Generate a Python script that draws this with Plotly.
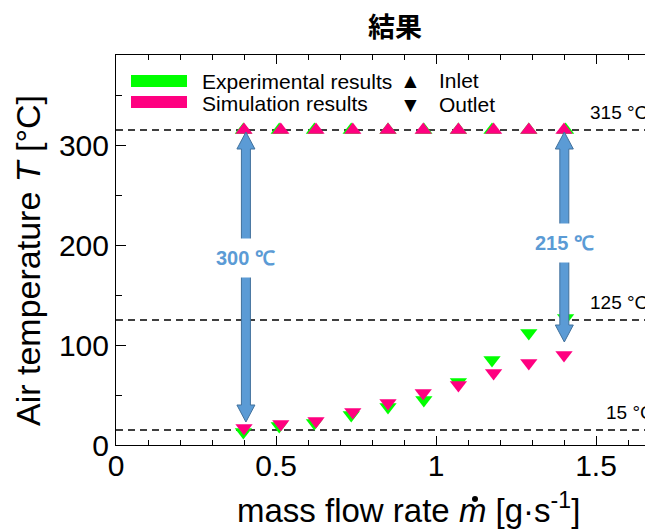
import plotly.graph_objects as go

# ---------------- data ----------------
sim_x = [0.40, 0.515, 0.625, 0.74, 0.85, 0.96, 1.07, 1.18, 1.29, 1.40]
exp_x = [0.398, 0.51, 0.62, 0.735, 0.85, 0.962, 1.07, 1.175, 1.29, 1.405]
exp_inlet = [315, 315, 315, 315, 315, 315, 315, 315, 315, 315]
sim_inlet = [315, 315, 315, 315, 315, 315, 315, 315, 315, 315]
exp_outlet = [13, 19, 22, 30, 38, 45, 63, 85, 112, 127]
sim_outlet = [17, 21, 24, 33, 42, 52, 60, 72, 82, 90]

ref_levels = [315, 125, 15]
ref_labels = ["315 °C", "125 °C", "15 °C"]

arrow_x = [0.406, 1.401]
arrow_top = [313, 313]
arrow_bottom = [23, 103]
arrow_labels = ["300 ℃", "215 ℃"]
arrow_label_y = [187, 202]

x_ticks = [0, 0.5, 1, 1.5]
x_tick_text = ["0", "0.5", "1", "1.5"]
y_ticks = [0, 100, 200, 300]
y_tick_text = ["0", "100", "200", "300"]

# ---------------- layout geometry ----------------
W, H = 653, 530
OFF = 8  # page body margin: screen px = figure px + 8
L, R, T, B = 108, 0, 47, 93
PW, PH = W - L - R, H - T - B
XPX = 320.0  # px per unit x
X_MAX = PW / XPX
Y_MAX = PH * 1.0


def px(xs):
    return (xs - OFF - L) / PW


def py(ys):
    return (H - B - (ys - OFF)) / PH


GREEN = "#00FF00"
PINK = "#FF0080"
BLUE = "#5B9BD5"
BLUE_EDGE = "#41719C"
FONT = "Liberation Sans, Arial, sans-serif"

fig = go.Figure()
fig.add_trace(go.Scatter(x=exp_x, y=exp_inlet, mode="markers",
                         marker=dict(symbol="triangle-up", size=15, color=GREEN, line_width=0),
                         showlegend=False))
fig.add_trace(go.Scatter(x=exp_x, y=exp_outlet, mode="markers",
                         marker=dict(symbol="triangle-down", size=15, color=GREEN, line_width=0),
                         showlegend=False))
fig.add_trace(go.Scatter(x=sim_x, y=sim_inlet, mode="markers",
                         marker=dict(symbol="triangle-up", size=15, color=PINK, line_width=0),
                         showlegend=False))
fig.add_trace(go.Scatter(x=sim_x, y=sim_outlet, mode="markers",
                         marker=dict(symbol="triangle-down", size=15, color=PINK, line_width=0),
                         showlegend=False))

shapes = []
annotations = []

# reference dashed lines + labels
for lv, lab in zip(ref_levels, ref_labels):
    shapes.append(dict(type="line", xref="paper", yref="y", x0=0, x1=1, y0=lv, y1=lv,
                       line=dict(color="black", width=1.6, dash="7px,5px"), layer="below"))
    annotations.append(dict(xref="paper", yref="y", x=px(588 if lv != 15 else 604), y=lv,
                            text=lab, showarrow=False, xanchor="left", yanchor="bottom",
                            yshift=5, font=dict(family=FONT, size=19, color="black")))

# block double arrows
head_len = 17.0
head_hw = 9.0 / XPX
shaft_hw = 4.5 / XPX
for ax, yt, yb, lab, ly in zip(arrow_x, arrow_top, arrow_bottom, arrow_labels, arrow_label_y):
    path = (f"M {ax},{yt} L {ax + head_hw},{yt - head_len} L {ax + shaft_hw},{yt - head_len} "
            f"L {ax + shaft_hw},{yb + head_len} L {ax + head_hw},{yb + head_len} L {ax},{yb} "
            f"L {ax - head_hw},{yb + head_len} L {ax - shaft_hw},{yb + head_len} "
            f"L {ax - shaft_hw},{yt - head_len} L {ax - head_hw},{yt - head_len} Z")
    shapes.append(dict(type="path", xref="x", yref="y", path=path, fillcolor=BLUE,
                       line=dict(color=BLUE_EDGE, width=1)))
    annotations.append(dict(xref="x", yref="y", x=ax, y=ly, text=f"<b>{lab}</b>", showarrow=False,
                            bgcolor="white", borderpad=8,
                            font=dict(family=FONT, size=20, color=BLUE)))

# custom legend
shapes.append(dict(type="rect", xref="paper", yref="paper", x0=px(131), x1=px(187),
                   y0=py(87), y1=py(75), fillcolor=GREEN, line_width=0))
shapes.append(dict(type="rect", xref="paper", yref="paper", x0=px(131), x1=px(187),
                   y0=py(108), y1=py(96), fillcolor=PINK, line_width=0))
for txt, xx, yy, anc, sz in [("Experimental results", 200, 81, "left", 21),
                             ("Simulation results", 200, 103, "left", 21),
                             ("▲", 410, 80, "center", 21),
                             ("▼", 410, 104, "center", 21),
                             ("Inlet", 437, 80, "left", 21),
                             ("Outlet", 437, 104, "left", 21)]:
    annotations.append(dict(xref="paper", yref="paper", x=px(xx), y=py(yy), text=txt,
                            showarrow=False, xanchor=anc, yanchor="middle",
                            font=dict(family=FONT, size=sz, color="black")))

# axis titles
annotations.append(dict(xref="paper", yref="paper", x=px(28), y=py(261),
                        text="Air temperature <i>T</i> [°C]", textangle=-90, showarrow=False,
                        xanchor="center", yanchor="middle",
                        font=dict(family=FONT, size=34, color="black")))
annotations.append(dict(xref="paper", yref="paper", x=px(408), y=py(508),
                        text="mass flow rate <i>m</i> [g·s<sup>-1</sup>]", showarrow=False,
                        xanchor="center", yanchor="middle",
                        font=dict(family=FONT, size=33, color="black")))
shapes.append(dict(type="circle", xref="paper", yref="paper", x0=px(472), x1=px(478),
                   y0=py(502), y1=py(496), fillcolor="black", line_width=0))

# title
annotations.append(dict(xref="paper", yref="paper", x=px(395), y=py(25), text="<b>結果</b>",
                        showarrow=False, xanchor="center", yanchor="middle",
                        font=dict(family="Noto Sans CJK JP", size=27, color="black")))

fig.update_layout(
    width=W, height=H,
    margin=dict(l=L, r=R, t=T, b=B),
    plot_bgcolor="white", paper_bgcolor="white",
    shapes=shapes, annotations=annotations,
    showlegend=False,
    xaxis=dict(range=[0, X_MAX], tickvals=x_ticks, ticktext=x_tick_text,
               ticks="inside", ticklen=9, tickwidth=1, tickcolor="black",
               ticklabelstandoff=-6,
               minor=dict(dtick=0.1, ticks="inside", ticklen=5, tickcolor="black", tick0=0),
               showline=True, linecolor="black", linewidth=1, mirror="allticks",
               showgrid=False, zeroline=False,
               tickfont=dict(family=FONT, size=30, color="black")),
    yaxis=dict(range=[0, Y_MAX], tickvals=y_ticks, ticktext=y_tick_text,
               ticks="inside", ticklen=10, tickwidth=1, tickcolor="black",
               minor=dict(dtick=50, ticks="inside", ticklen=6, tickcolor="black", tick0=0),
               showline=True, linecolor="black", linewidth=1, mirror="allticks",
               showgrid=False, zeroline=False,
               tickfont=dict(family=FONT, size=30, color="black")),
)

fig.write_html("out.html")
